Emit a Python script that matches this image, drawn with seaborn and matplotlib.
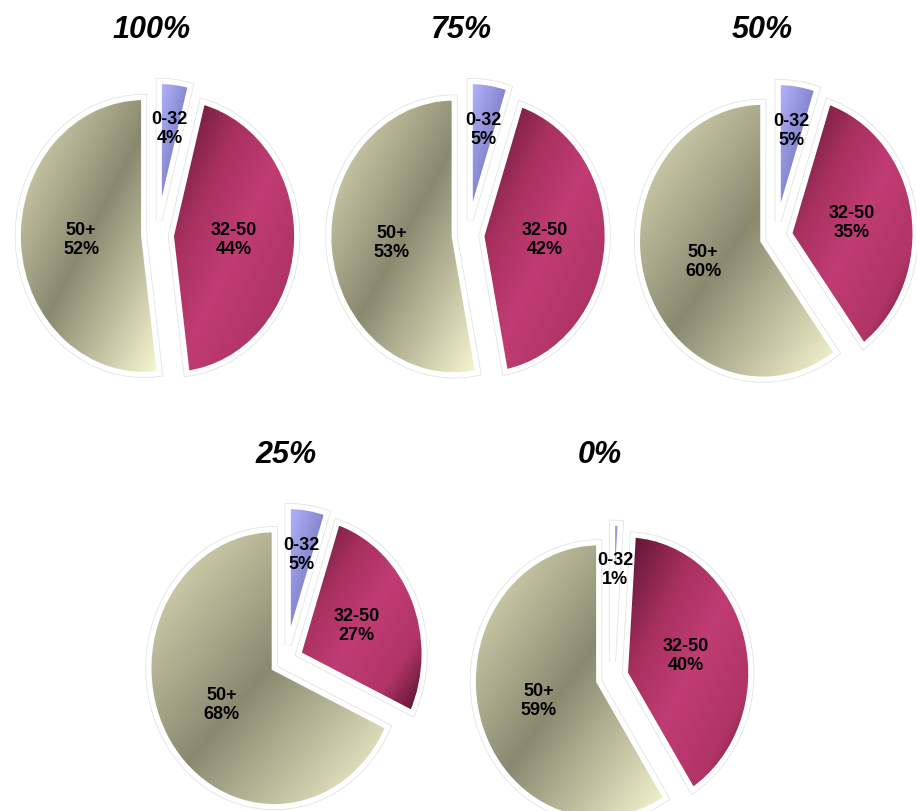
import numpy as np
import matplotlib
matplotlib.use("Agg")
import matplotlib.pyplot as plt
from matplotlib.colors import LinearSegmentedColormap
import seaborn as sns

# ---- data ----
titles = ["100%", "75%", "50%", "25%", "0%"]
categories = ["0-32", "32-50", "50+"]
share_0_32 = [4, 5, 5, 5, 1]
share_32_50 = [44, 42, 35, 27, 40]
share_50_plus = [52, 53, 60, 68, 59]

# ---- style ----
sns.set_theme(style="white")
plt.rcParams["font.family"] = ["Liberation Sans", "DejaVu Sans"]

W, H = 917, 811
fig = plt.figure(figsize=(W / 100, H / 100), dpi=100)
fig.patch.set_facecolor("white")

centers = [(157.5, 235), (468, 235), (776, 236), (286, 660), (612, 677)]
title_pos = [(152, 30), (461, 30), (762, 30), (286, 455), (600, 455)]
SX, SY = 125.5, 138.5   # pixels per data unit
L = 1.35
EXPLODE = 0.11
LABEL_DIST = [0.66, 0.5, 0.5]

cmaps = [
    LinearSegmentedColormap.from_list("c0", [(0, "#b6b6ff"), (1, "#5656a0")]),
    LinearSegmentedColormap.from_list(
        "c1", [(0, "#58122f"), (0.3, "#a8315f"), (0.52, "#c03c74"),
               (0.78, "#b03465"), (1, "#4a0d28")]),
    LinearSegmentedColormap.from_list(
        "c2", [(0, "#e4e4bf"), (0.5, "#89896f"), (1, "#fafad4")]),
]

n = 200
uu, vv = np.meshgrid(np.linspace(0, 1, n), np.linspace(0, 1, n))
grad = (uu + (1 - vv)) / 2.0

for i in range(5):
    cx, cy = centers[i]
    ax = fig.add_axes([(cx - L * SX) / W, (H - cy - L * SY) / H,
                       2 * L * SX / W, 2 * L * SY / H])
    vals = [share_0_32[i], share_32_50[i], share_50_plus[i]]
    ax.pie(vals, startangle=90, counterclock=False, explode=[EXPLODE] * 3,
           wedgeprops=dict(facecolor="white", edgecolor="#e3e3e3",
                           linewidth=5.0, zorder=1))
    wedges, _ = ax.pie(vals, startangle=90, counterclock=False,
                       explode=[EXPLODE] * 3,
                       wedgeprops=dict(facecolor="none", edgecolor="white",
                                       linewidth=3.8, zorder=3))
    for k, w in enumerate(wedges):
        verts = w.get_path().vertices
        x0, y0 = verts.min(axis=0)
        x1, y1 = verts.max(axis=0)
        im = ax.imshow(grad, cmap=cmaps[k], vmin=0, vmax=1,
                       extent=(x0, x1, y0, y1), origin="lower",
                       aspect="auto", interpolation="bilinear", zorder=2)
        im.set_clip_path(w)
        th = np.deg2rad((w.theta1 + w.theta2) / 2)
        px = w.center[0] + LABEL_DIST[k] * np.cos(th)
        py = w.center[1] + LABEL_DIST[k] * np.sin(th)
        ax.text(px, py, f"{categories[k]}\n{vals[k]}%", ha="center",
                va="center", fontsize=13, fontweight="bold", color="black",
                linespacing=1.15, zorder=5)
    ax.set_xlim(-L, L)
    ax.set_ylim(-L, L)
    ax.set_aspect("auto")
    ax.axis("off")
    tx, ty = title_pos[i]
    fig.text(tx / W, 1 - ty / H, titles[i], ha="center", va="center",
             fontsize=22, fontweight="bold", fontstyle="italic", color="black")

fig.savefig("out.png", dpi=100, facecolor="white")
